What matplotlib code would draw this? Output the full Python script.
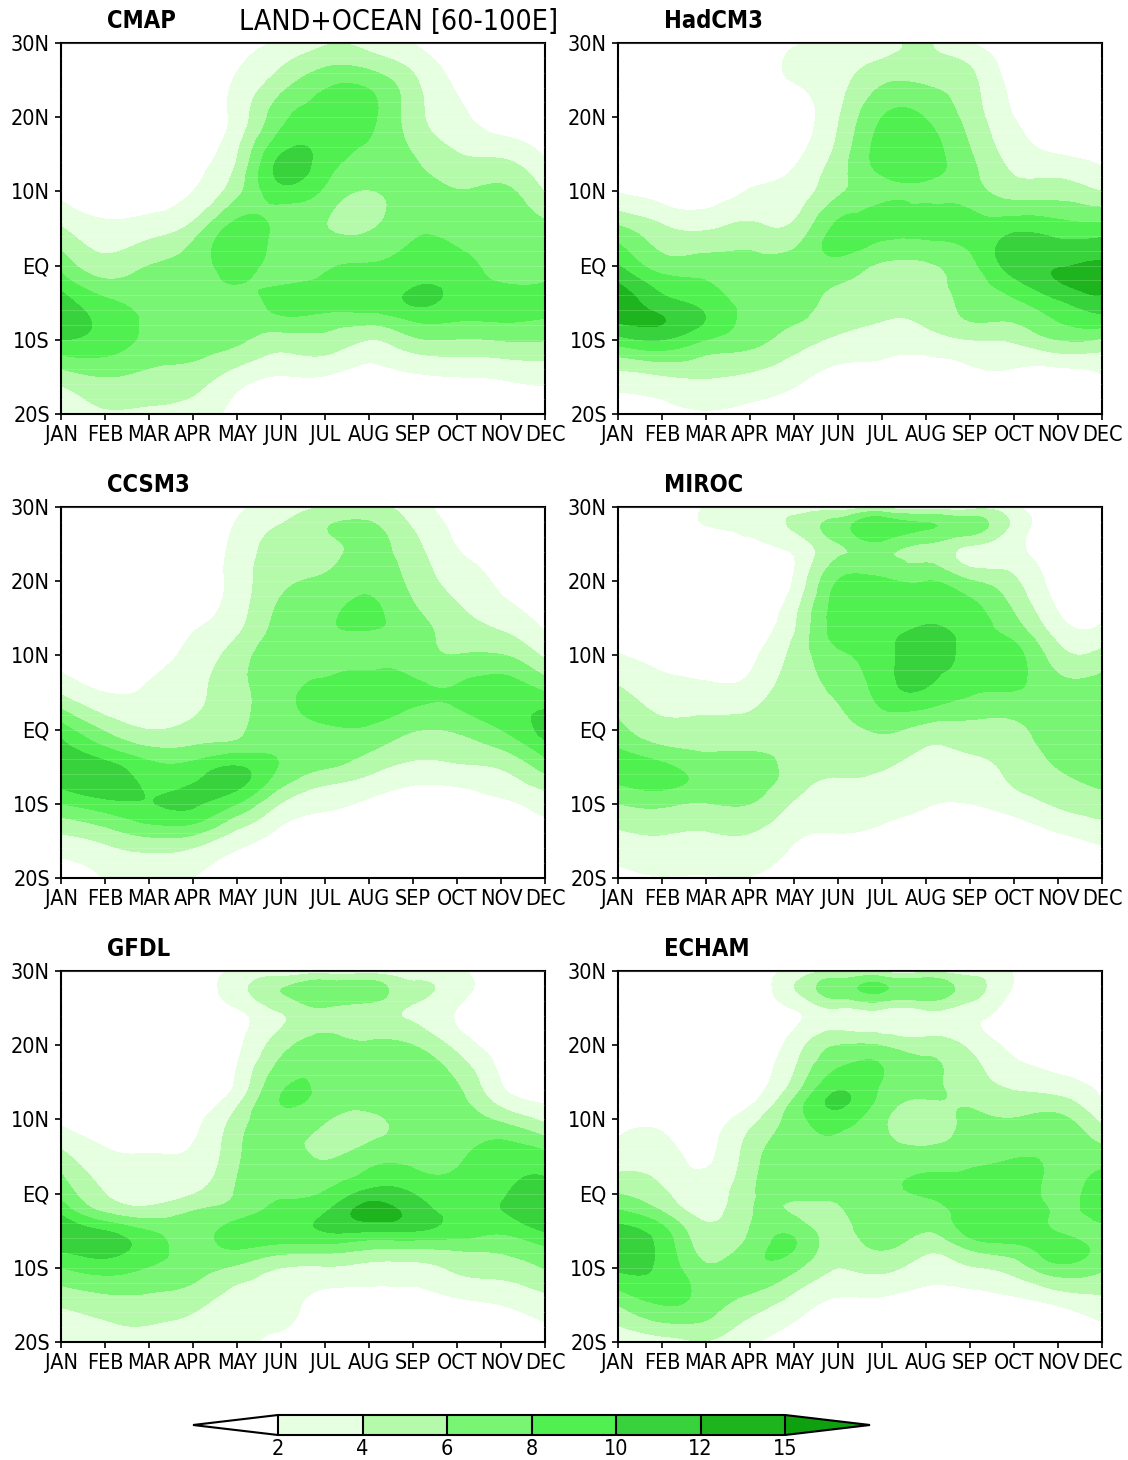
import numpy as np
import matplotlib
matplotlib.use('Agg')
import matplotlib.pyplot as plt
import matplotlib.tri as mtri
from matplotlib.colors import ListedColormap, BoundaryNorm

plt.rcParams['font.family'] = ['DejaVu Sans']
plt.rcParams['font.stretch'] = 'condensed'

months = ['JAN', 'FEB', 'MAR', 'APR', 'MAY', 'JUN', 'JUL', 'AUG', 'SEP', 'OCT', 'NOV', 'DEC']
lats = [30, 27.5, 25, 20, 15, 12.5, 10, 5, 0, -2.5, -5, -7.5, -10, -15, -20]
lat_ticks = [-20, -10, 0, 10, 20, 30]
lat_labels = ['20S', '10S', 'EQ', '10N', '20N', '30N']
levels = [2, 4, 6, 8, 10, 12, 15]

# one row per month, values going from 30N down to 20S (lats above)
cmap_data = [
    [.4, .5, .6, 1, 1.2, 1.4, 1.6, 4.2, 7.3, 9.2, 11, 11.3, 10, 4.9, 2.6],
    [.4, .5, .7, .9, 1, 1.1, 1.2, 2.5, 4.8, 6.6, 8.5, 9.4, 9.2, 6, 3.8],
    [.4, .5, .7, .9, 1.1, 1.2, 1.4, 3, 6, 6.9, 7.5, 7.7, 7.5, 5.4, 3.7],
    [.4, .6, .9, 1.1, 1.4, 1.7, 2, 4.8, 7, 7.3, 7.5, 7.4, 7, 5, 3.2],
    [1.2, 1.7, 2.2, 2.7, 3.9, 4.6, 5.4, 8.8, 8.6, 8, 7.5, 7, 6.4, 3, 1.3],
    [2.3, 3.6, 4.9, 7.4, 10, 10.6, 9.2, 7.2, 7.4, 7.9, 8.6, 7.3, 5.2, 1.9, .8],
    [3.8, 5.4, 7.3, 8.8, 9.2, 8.6, 7.6, 6.1, 7.9, 8.3, 8.8, 7, 5.4, 1.9, .8],
    [3.4, 5, 7.2, 8.5, 7.5, 6.9, 5.9, 5.8, 8.1, 8.6, 8.8, 6.6, 4, 1.3, .6],
    [2, 3.2, 4.4, 4.9, 6, 6.5, 6.8, 7.6, 9, 9.8, 10.2, 8, 5.6, 1.7, .7],
    [1, 1.3, 1.7, 2.5, 4.1, 5.1, 6.1, 7.2, 8.9, 9.4, 9.4, 8, 5.9, 2, .8],
    [.6, .8, 1, 1.1, 3.6, 5.2, 6.4, 7, 7.3, 8.1, 9.2, 8.1, 6.1, 2.2, .9],
    [.4, .5, .7, 1, 1.8, 2.8, 3.9, 6.5, 7.6, 8.1, 8.4, 7.8, 6.1, 2.6, 1],
]
hadcm3_data = [
    [.5, .5, .6, .8, 1.1, 1.4, 1.9, 6.4, 10.1, 12.1, 13.5, 12.2, 9.2, 3.2, 1.3],
    [.4, .5, .6, .8, 1, 1.1, 1.2, 4.4, 7, 9.2, 10.8, 12.1, 10, 3.8, 1.5],
    [.3, .4, .5, .6, .7, .8, 1, 3.8, 7, 8.2, 9.3, 9.9, 8, 4.1, 1.8],
    [.3, .5, .7, .8, 1, 1.5, 2.1, 4.5, 6.6, 7, 7.4, 7.4, 6.7, 3.6, 1.5],
    [1.8, 2.4, 2.1, 1.2, 1.6, 2.2, 2.8, 4.5, 7, 7.1, 7, 6.2, 5, 2.5, 1.1],
    [2.5, 3.2, 3.3, 3.8, 4.7, 5.2, 5.6, 8.6, 7.3, 6, 5, 4.7, 3.6, 1.4, .6],
    [3.2, 4.2, 5.6, 8, 8.9, 8.2, 7.6, 8.6, 5.7, 5.1, 4.6, 4, 3, 1.3, .6],
    [4.2, 4.5, 5.6, 7.9, 9, 8.5, 7.7, 8.6, 5.7, 5.2, 4.8, 4.3, 3.1, .9, .5],
    [2.1, 3.7, 4.5, 5.2, 6.2, 6.6, 7, 8.6, 7.4, 7, 6.6, 6, 4, 1.6, .6],
    [.8, 1, 1.3, 2, 3.1, 3.9, 5, 9.5, 11, 9.3, 7.6, 6.1, 4.3, 1.5, .6],
    [.5, .6, .8, 1.1, 2, 3.5, 5.1, 9, 11.9, 11.8, 9.6, 8, 6, 1, .6],
    [.5, .6, .8, 1.1, 1.6, 2.3, 4, 8.9, 12.4, 13, 11.2, 9.1, 5.7, 1.8, .7],
]
ccsm3_data = [
    [.4, .4, .5, .7, 1, 1.2, 1.4, 3.7, 9, 10.8, 11.9, 10.4, 8, 3.3, 1],
    [.3, .4, .5, .6, .8, .9, 1.1, 2, 5.7, 8.2, 10.8, 11.3, 9.3, 4.3, 2.1],
    [.3, .4, .5, .6, .8, 1, 1.3, 2.3, 4, 6.2, 8.6, 9.6, 9.9, 5.4, 2.6],
    [.3, .4, .6, .9, 1.6, 2.1, 2.6, 3.5, 4.5, 6.3, 8.7, 10.1, 10.3, 5, 2],
    [1.6, 2.2, 2.6, 2.8, 3.2, 4, 5, 5.3, 5.5, 7.1, 10.1, 10.5, 8, 2.7, 1.3],
    [2.7, 4.1, 4.8, 5.6, 6.6, 6.9, 7.2, 7.4, 7.6, 7.7, 7.8, 6.3, 3.9, 1.3, .6],
    [4, 5.9, 5.6, 6.4, 7.8, 7.7, 7.4, 8.5, 7.7, 7, 6.2, 4, 2.4, .8, .4],
    [4.4, 6.3, 6.5, 7.4, 8.3, 7.8, 7.7, 8.6, 7.7, 6.3, 4.8, 3, 1.7, .7, .3],
    [2.9, 3.8, 4.6, 5.4, 6.7, 7, 7, 8.4, 6.2, 4.8, 3.5, 2, 1.2, .5, .2],
    [1.2, 1.6, 1.9, 3.2, 4.6, 5.3, 6.05, 8.3, 6.3, 5, 3.7, 2.1, 1.3, .5, .2],
    [.8, 1, 1.2, 1.7, 3.1, 4.5, 6.1, 9.3, 8, 6.1, 4.2, 2.9, 1.6, .5, .2],
    [.5, .6, .8, 1, 1.5, 2.2, 3.6, 8.1, 10.8, 9, 6.9, 4.5, 3, .6, .4],
]
miroc_data = [
    [.3, .4, .5, .7, 1, 1.4, 2.1, 4.5, 6.6, 8, 9.4, 7.9, 6, 3.3, 1.3],
    [.2, .3, .4, .6, .8, 1.1, 1.5, 2.9, 4.7, 6.3, 8.5, 8.5, 6.4, 3.7, 1.9],
    [2.1, 2, .5, .5, .7, .9, 1.1, 2.7, 4.7, 5.7, 7, 7.4, 5.9, 3.6, 1.8],
    [2.5, 2.4, 1.7, .7, .9, 1.2, 1.6, 2.9, 4.8, 5.7, 7.3, 7, 6, 3.6, 1.9],
    [3, 4.3, 2.8, 2.2, 3.6, 4.1, 4.6, 5.3, 5.2, 5.2, 5.1, 4.7, 3.8, 2.1, .9],
    [2.8, 7, 5.9, 8.1, 8.9, 8.6, 7.5, 6.2, 5.2, 4.8, 4.5, 3.6, 3.2, 1.6, .7],
    [3.5, 9.6, 7.4, 8.4, 9.1, 9.3, 9.3, 8.9, 6.3, 5.2, 4.2, 3.4, 2.8, 1.3, .5],
    [3.1, 8.2, 5.9, 8, 9.4, 11, 11, 9.7, 5.2, 3.9, 2.9, 2.4, 2.1, .9, .4],
    [3, 7, 4.2, 6.2, 8.8, 9.2, 9.4, 8.2, 5.3, 4.3, 3.3, 2.6, 2, .9, .4],
    [2.4, 3.5, 2.6, 4.4, 6.3, 7.6, 8.7, 7.9, 5.4, 4.9, 4.5, 4.1, 2.9, .9, .4],
    [.4, .5, .7, 1.2, 2.3, 3.5, 4.8, 7, 7.4, 6.8, 6.1, 5.3, 4.3, 1.4, .5],
    [.3, .4, .5, 1, 1.8, 2.8, 4.7, 7, 7.4, 7.4, 7.2, 6.2, 5.2, 2.3, .7],
]
gfdl_data = [
    [.3, .4, .4, .6, .9, 1.2, 1.6, 4.7, 7.4, 9.6, 11.8, 10.4, 8, 4.2, 2.1],
    [.3, .4, .4, .5, .7, .9, 1.2, 2.4, 4, 5.9, 10, 10.8, 8.9, 5, 3.1],
    [.3, .4, .5, .6, .8, 1, 1.2, 2.1, 3.1, 4.9, 8, 9, 7.9, 5.2, 3.1],
    [.3, .4, .5, .7, 1, 1.2, 1.5, 2.3, 3.9, 6.1, 7, 7.3, 6.8, 4.5, 2.4],
    [2.2, 3.3, 2, 1.6, 2.3, 3.4, 4.8, 5.6, 6.2, 7.2, 8.8, 8, 5.6, 3, 2.4],
    [2.5, 6, 4.4, 5.2, 7.5, 8.05, 7.4, 7.2, 7.8, 8.6, 9.4, 7, 4, 2.6, 1.4],
    [3, 7.4, 5.9, 7, 7.5, 7.3, 6.2, 5.8, 8.2, 9.9, 10.1, 6.8, 3.8, 1.3, .7],
    [3, 7.2, 5.2, 6.4, 7, 6.8, 5.5, 7.1, 10.7, 12.8, 10.2, 6, 3.4, 1.1, .6],
    [2.6, 4.5, 3.8, 6, 7, 7, 6.8, 7.3, 10, 11.3, 10.1, 5.9, 3.4, 1, .5],
    [2.5, 3, 2, 3.3, 6, 6.6, 7, 7.6, 8.8, 9.4, 9.1, 6.2, 4.4, 1.5, .7],
    [.5, .6, .8, 1.2, 2, 3.2, 5.6, 9.1, 9.8, 9.9, 8.4, 6.4, 4.9, 2, .8],
    [.3, .4, .5, .8, 1.3, 1.8, 3.5, 8.7, 10.9, 12, 10.2, 7.6, 6.1, 3, 1.3],
]
echam_data = [
    [.2, .3, .3, .5, .8, 1, 1.3, 3, 6, 8.4, 10.7, 11, 10.3, 6, 3],
    [.2, .3, .3, .5, .7, 1, 1.5, 2.9, 4.4, 6.1, 8.7, 9.4, 9.5, 8, 3.1],
    [.2, .3, .3, .4, .6, .9, 1.2, 1.7, 2.9, 3.4, 4.5, 5.2, 6.4, 7, 3.9],
    [.3, .4, .4, .7, 1.1, 1.6, 3.2, 5, 5.6, 5.8, 6.1, 6.9, 7.4, 5, 2.2],
    [2.6, 3.9, 2.1, 2.9, 4.5, 6.3, 7, 7.4, 6.6, 5.8, 7.4, 8, 6.5, 3, 1.2],
    [3.8, 7.2, 4, 6, 9.2, 10.4, 9, 7.6, 6.4, 5.7, 5.2, 4.9, 4, 1.5, .7],
    [3.6, 8.3, 4.2, 5.9, 7.9, 7.3, 6.4, 7.2, 7.5, 7.6, 7.5, 6.1, 4.5, 1.4, .7],
    [3.5, 7.7, 4.3, 5, 6.4, 5.9, 5.1, 6.9, 8.1, 7.5, 6.1, 4.4, 3.1, .9, .4],
    [3, 5, 3.2, 3.6, 4.9, 5.7, 6.2, 7.3, 8.9, 8.9, 8.8, 6.1, 3.8, 1.1, .5],
    [1.9, 1.8, 1.2, 1.4, 3.4, 4.8, 6.1, 7.9, 9, 9.2, 9.2, 7.2, 4.9, 1.3, .5],
    [.4, .5, .6, 1, 2.6, 4.6, 6.5, 7.8, 7.6, 7.8, 7.9, 8.8, 7.4, 2.1, .7],
    [.3, .4, .5, .9, 1.5, 2, 3.4, 7.1, 8.9, 8.4, 7.7, 7.2, 6.3, 3.1, 1.3],
]

colors = ['#ffffff', '#e6ffe1', '#b4faaa', '#78f573', '#50f050', '#37d23c', '#1eb41e', '#0fa00f']
W, H = 1128, 1460


def px_axes(fig, left, top, right, bottom):
    return fig.add_axes([left / W, 1 - bottom / H, (right - left) / W, (bottom - top) / H])


def smooth_contourf(ax, data):
    # contour with the cubic refiner from matplotlib.tri so the edges come out round,
    # lat is scaled so the triangles are about square
    xx, yy = np.meshgrid(np.arange(12), np.array(lats) / 5)
    tri = mtri.Triangulation(xx.ravel(), yy.ravel())
    refiner = mtri.UniformTriRefiner(tri)
    t2, z2 = refiner.refine_field(np.array(data).T.ravel(), subdiv=3)
    t3 = mtri.Triangulation(t2.x, t2.y * 5, t2.triangles)
    return ax.tricontourf(t3, z2, levels=levels, cmap=cmap, norm=norm, extend='both')


cmap = ListedColormap(colors[1:-1])
cmap.set_under(colors[0])
cmap.set_over(colors[-1])
norm = BoundaryNorm(levels, cmap.N)

fig = plt.figure(figsize=(W / 100, H / 100), dpi=100)

panels = [
    ('CMAP', cmap_data, 61, 43),
    ('HadCM3', hadcm3_data, 618, 43),
    ('CCSM3', ccsm3_data, 61, 507),
    ('MIROC', miroc_data, 618, 507),
    ('GFDL', gfdl_data, 61, 971),
    ('ECHAM', echam_data, 618, 971),
]

for name, data, left, top in panels:
    ax = px_axes(fig, left, top, left + 484, top + 371)
    cf = smooth_contourf(ax, data)
    # faint white scan lines that run through the filled areas
    ax.hlines(np.arange(-20, 31, 2), 0, 11, color='white', lw=0.5, alpha=0.25, zorder=3)
    ax.set_xlim(0, 11)
    ax.set_ylim(-20, 30)
    ax.set_xticks(np.arange(12))
    ax.set_xticklabels(months, fontsize=15.5)
    ax.set_yticks(lat_ticks)
    ax.set_yticklabels(lat_labels, fontsize=15.5)
    ax.tick_params(length=4, width=1.2, pad=4)
    for s in ax.spines.values():
        s.set_linewidth(1.5)
    fig.text((left + 46) / W, 1 - (top - 22) / H, name, fontsize=17, fontweight='bold',
             ha='left', va='center')

fig.text(239 / W, 1 - 22 / H, 'LAND+OCEAN [60-100E]', fontsize=20.5, ha='left', va='center')

cax = px_axes(fig, 193, 1415, 870, 1435)
cb = fig.colorbar(cf, cax=cax, orientation='horizontal', extend='both', extendfrac=85 / 507,
                  spacing='uniform', drawedges=True, ticks=levels)
cb.ax.set_xticklabels([str(v) for v in levels], fontsize=15.5)
cb.ax.tick_params(length=0, pad=3)
cb.outline.set_linewidth(1.5)
cb.outline.set_edgecolor('black')
cb.dividers.set_linewidth(1.5)

fig.savefig('out.png', dpi=100)
